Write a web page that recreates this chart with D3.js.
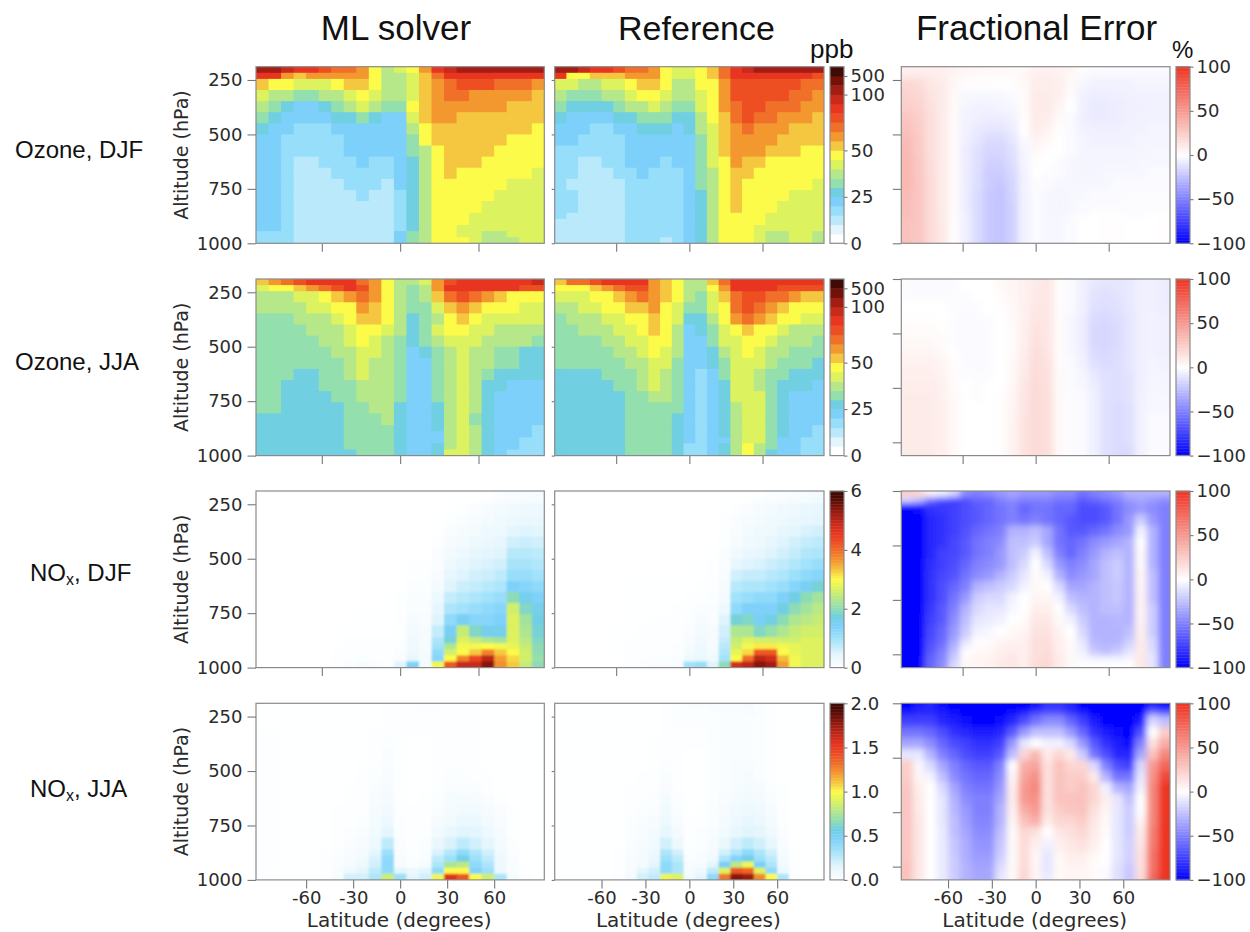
<!DOCTYPE html>
<html>
<head>
<meta charset="utf-8">
<script src="https://cdn.jsdelivr.net/npm/d3@7"></script>
<style>
    html, body { margin: 0; padding: 0; background: #fff; }
    svg { display: block; }
    .tick text { font-family: "DejaVu Sans", sans-serif; font-size: 18px; fill: #2b2b2b; }
    .tick line { stroke: #777; stroke-width: 1.1px; }
    .domain { display: none; }
    .frame { fill: none; stroke: #8a8a8a; stroke-width: 1.2px; }
    .heading { font-family: "Liberation Sans", sans-serif; fill: #111; }
    .axis-label { font-family: "DejaVu Sans", sans-serif; fill: #2b2b2b; }
</style>
</head>
<body>
<div id="chart"></div>
<script>
//Etiquetas
const columnTitles = ['ML solver', 'Reference', 'Fractional Error'];
const rowLabels = [['Ozone, DJF', 15, 158], ['Ozone, JJA', 15, 370], ['NO', 30, 581, 'x', ', DJF'], ['NO', 30, 797, 'x', ', JJA']];

//Rejilla de los datos
const latitudes = [-88,-80,-72,-64,-56,-48,-40,-32,-24,-16,-8,0,8,16,24,32,40,48,56,64,72,80,88];
const altitudeEdges = [189,217,245,296,347,398,449,500,551,602,653,704,755,806,860,888,916,944,972,1000];

//Ticks
const altitudeTicks = [250,500,750,1000];
const shiftedAltitudeTicks = [189,439,689,939];
const latitudeTicksPlain = [-50,0,50];
const latitudeTicksLabelled = [-60,-30,0,30,60];
const ozoneTicks = [0,25,50,100,500];
const noxDjfTicks = [0,2,4,6];
const noxJjaTicks = [0,0.5,1,1.5,2];
const errorTicks = [-100,-50,0,50,100];

//Niveles y colores
const ozoneLevels = [0,5,10,15,20,25,30,35,40,45,50,55,60,65,70,80,100,200,500,1000];
const palette = ['#ffffff','#e3f5fd','#b9e9fb','#97defa','#7dd0fa','#70cfe0','#93dfae','#b6e88a','#dcf25f','#fdfb4a','#f5c63f','#f3982f','#f0702a','#ed4f23','#e83620','#c92a1a','#a31e12','#74120a','#420a04'];

//Ozono DJF (ppb)
const ozoneDjfML = [
[150,150,90,75,75,67,62,62,57,47,37,42,47,57,70,90,150,150,150,150,150,150,150],
[75,70,57,52,57,57,57,57,57,47,37,37,42,52,62,70,75,75,75,75,75,75,75],
[52,47,47,42,42,42,47,52,52,47,37,37,42,52,57,62,67,67,67,62,62,62,57],
[42,37,37,32,32,37,37,42,47,42,37,37,42,52,57,62,62,57,57,57,57,57,52],
[37,32,27,22,22,27,32,37,42,37,32,32,47,52,57,57,57,57,57,57,52,52,52],
[32,27,22,22,22,22,27,27,32,27,22,22,42,52,57,57,52,52,52,52,52,52,52],
[27,22,22,17,17,17,22,22,22,22,22,22,37,47,52,52,52,52,52,52,52,52,47],
[22,22,17,17,17,17,17,22,22,22,22,22,32,47,52,52,52,52,52,52,47,47,47],
[22,22,17,17,17,17,17,22,22,22,22,22,32,37,47,52,52,52,52,47,47,47,47],
[22,22,17,12,12,17,17,17,22,17,17,22,27,37,47,52,52,52,47,47,47,47,47],
[22,22,17,12,12,12,17,17,17,17,17,22,27,37,47,52,47,47,47,47,47,47,42],
[22,22,17,12,12,12,12,17,17,17,12,22,27,37,47,47,47,47,47,47,42,42,42],
[22,22,17,12,12,12,12,12,17,12,12,17,27,37,47,47,47,47,47,42,42,42,42],
[22,22,17,12,12,12,12,12,12,12,12,17,27,37,47,47,47,47,42,42,42,42,42],
[22,22,17,12,12,12,12,12,12,12,12,17,27,37,47,47,47,42,42,42,42,42,42],
[22,22,17,12,12,12,12,12,12,12,12,17,27,37,47,47,47,42,42,42,42,42,42],
[22,22,17,12,12,12,12,12,12,12,12,17,27,37,47,47,42,42,42,42,42,42,42],
[17,17,17,12,12,12,12,12,12,12,12,22,32,37,47,47,42,42,37,37,42,42,42],
[17,17,17,12,12,12,12,12,12,12,12,22,32,37,47,47,47,42,37,37,37,42,42]
];
const ozoneDjfRef = [
[150,150,90,75,75,67,62,62,57,47,42,42,47,52,62,75,90,150,150,150,150,150,150],
[70,47,47,52,52,52,57,57,57,47,42,42,47,52,62,75,75,75,75,75,75,75,67],
[42,42,37,37,42,42,47,52,52,47,37,37,47,47,57,67,67,67,67,67,67,62,62],
[37,32,32,32,37,37,42,47,47,42,37,37,42,47,57,67,67,67,67,67,62,62,57],
[32,27,27,27,27,32,37,37,42,37,32,32,42,47,57,62,67,67,62,62,62,57,57],
[27,22,22,22,22,27,27,32,32,32,27,27,37,47,52,62,67,62,62,57,57,57,52],
[22,22,22,17,17,22,22,27,27,27,22,27,37,42,52,57,62,57,57,57,52,52,52],
[22,22,17,17,17,17,22,22,22,22,22,22,32,42,52,57,57,57,57,52,52,52,52],
[17,17,17,17,17,17,22,22,22,22,22,22,32,42,52,57,57,57,52,52,52,47,47],
[17,17,12,12,17,17,22,22,22,17,22,22,32,42,47,57,52,52,47,47,47,47,47],
[17,17,12,12,12,17,17,22,17,17,17,22,32,37,47,52,52,47,47,47,47,47,47],
[17,12,12,12,12,12,17,17,17,17,17,22,32,37,47,52,47,47,47,47,47,47,42],
[17,17,12,12,12,12,17,17,17,17,17,22,27,37,47,52,47,47,47,47,42,42,42],
[17,17,12,12,12,12,17,17,17,17,17,22,27,37,47,52,47,47,47,42,42,42,42],
[17,12,12,12,12,12,17,17,17,17,17,22,27,37,47,47,47,47,42,42,42,42,42],
[12,12,12,12,12,12,17,17,17,17,17,22,27,37,47,47,47,47,42,42,42,42,42],
[12,12,12,12,12,12,17,17,17,17,17,22,27,37,47,47,47,42,42,42,42,42,42],
[12,12,12,12,12,12,17,17,17,17,17,22,27,37,47,47,47,42,37,37,42,42,37],
[12,12,12,12,12,12,17,17,17,12,17,22,27,37,47,47,47,42,37,37,42,42,37]
];
const ozoneDjfError = [
[8,8,8,8,6,5,4,3,3,3,3,6,7,6,5,1,-1,-2,-2,-2,-2,-2,-2],
[10,10,10,7,5,3,2,2,2,2,5,8,8,7,3,-2,-3,-3,-3,-3,-3,-3,-3],
[20,18,12,10,4,1,1,1,0,1,3,9,9,8,3,-3,-5,-5,-5,-5,-4,-4,-4],
[22,20,14,10,3,-3,-3,-3,-3,-2,2,10,10,8,2,-5,-7,-7,-6,-6,-5,-5,-5],
[24,22,15,10,3,-4,-5,-5,-4,-3,2,10,10,5,0,-6,-8,-8,-7,-6,-6,-5,-5],
[28,24,16,10,2,-5,-6,-7,-7,-5,1,10,9,3,-2,-6,-8,-8,-7,-6,-5,-5,-5],
[30,25,16,10,2,-5,-8,-10,-10,-7,0,9,6,1,-2,-5,-6,-6,-6,-5,-5,-4,-4],
[33,26,16,10,2,-6,-10,-14,-14,-10,-2,6,3,0,-2,-4,-5,-5,-5,-5,-4,-4,-4],
[34,26,16,10,2,-7,-12,-16,-16,-12,-4,3,1,0,-2,-4,-4,-4,-4,-4,-4,-3,-3],
[35,27,17,10,2,-7,-12,-18,-18,-13,-4,1,0,-1,-3,-4,-4,-4,-4,-4,-3,-3,-3],
[35,27,17,10,2,-7,-13,-20,-20,-15,-5,0,-1,-2,-3,-4,-4,-3,-3,-3,-3,-2,-2],
[35,28,18,10,2,-7,-13,-20,-22,-16,-5,-1,-2,-3,-3,-3,-3,-3,-2,-2,-2,-2,-2],
[33,28,18,10,2,-7,-14,-21,-23,-17,-5,-2,-3,-4,-3,-3,-2,-2,-2,-1,-1,-1,-1],
[32,28,18,10,2,-7,-14,-21,-23,-18,-5,-2,-3,-4,-3,-2,-1,-1,-1,-1,-1,-1,-1],
[32,28,18,10,2,-6,-14,-21,-23,-18,-5,-2,-3,-4,-2,-1,0,0,0,-1,-1,0,0],
[30,28,18,11,1,-6,-14,-21,-23,-18,-5,-2,-3,-3,-2,0,0,1,1,0,0,0,1],
[30,28,18,11,1,-6,-14,-21,-23,-18,-5,-2,-3,-3,-2,0,0,1,1,0,0,0,1],
[30,28,18,11,1,-6,-14,-21,-23,-18,-5,-2,-3,-3,-2,0,0,1,1,0,0,0,1],
[30,28,18,11,1,-6,-14,-21,-23,-18,-5,-2,-3,-3,-2,0,0,1,1,0,0,0,1]
];

//Ozono JJA (ppb)
const ozoneJjaML = [
[52,57,62,67,70,70,75,75,62,57,47,37,37,42,57,67,75,75,75,75,75,75,80],
[42,47,47,52,57,62,67,70,67,57,47,37,32,37,57,70,70,70,70,70,70,67,67],
[37,37,37,42,42,47,52,57,62,57,47,37,32,37,52,62,67,62,57,52,47,47,47],
[37,37,37,37,42,42,47,47,57,52,47,37,32,32,42,52,57,52,47,47,47,42,42],
[32,32,32,37,37,37,42,47,52,52,47,37,27,32,37,47,52,47,42,42,42,42,42],
[32,32,32,32,37,37,37,42,47,47,42,37,27,32,42,47,47,42,42,37,37,37,37],
[32,32,32,32,32,37,37,42,47,42,37,32,27,32,37,42,42,42,37,37,37,37,32],
[32,32,32,32,32,32,37,37,42,42,37,32,22,27,32,37,42,37,37,32,32,27,27],
[32,32,32,32,32,32,32,37,42,37,37,32,22,22,32,37,42,37,37,32,32,27,27],
[32,32,32,27,27,32,32,37,42,37,37,32,22,22,32,37,42,37,32,27,27,27,27],
[32,32,27,27,27,32,32,32,37,37,37,32,22,22,32,37,42,37,27,27,22,22,22],
[32,32,27,27,27,27,32,32,37,37,37,32,22,22,32,37,42,37,27,22,22,22,22],
[32,32,27,27,27,27,27,32,32,37,37,27,22,22,27,37,42,37,27,22,22,22,22],
[27,27,27,27,27,27,27,32,32,32,37,27,22,22,27,37,42,32,27,22,22,22,22],
[27,27,27,27,27,27,27,32,32,32,32,27,22,22,27,37,42,37,27,22,22,22,17],
[27,27,27,27,27,27,27,32,32,32,32,27,22,22,22,37,42,37,27,22,22,22,17],
[27,27,27,27,27,27,27,32,32,32,32,27,22,22,22,37,42,37,27,22,22,17,17],
[27,27,27,27,27,27,27,32,32,32,32,27,22,22,27,37,42,37,27,22,22,17,17],
[27,27,27,27,27,27,27,27,32,32,32,27,22,22,27,42,42,37,27,22,17,17,17]
];
const ozoneJjaRef = [
[52,62,62,67,70,70,70,70,57,52,47,37,37,52,62,75,75,75,75,75,75,75,75],
[47,47,47,52,57,62,67,67,57,52,47,37,37,47,57,70,75,75,70,67,67,67,67],
[42,42,42,47,47,52,57,62,57,52,47,37,32,42,52,62,67,67,62,62,57,52,52],
[37,37,42,42,47,47,52,52,57,47,42,32,32,42,47,62,67,62,57,52,47,47,47],
[32,37,37,37,42,42,47,47,52,47,42,27,27,37,47,57,62,57,52,47,47,42,42],
[32,32,37,37,37,42,42,47,52,47,37,22,27,32,42,47,52,47,47,42,37,37,37],
[32,32,32,32,37,37,42,42,47,47,37,22,22,32,42,42,47,47,42,37,37,37,32],
[32,32,32,32,32,37,37,42,47,42,37,22,22,27,37,42,47,42,37,37,32,32,32],
[32,32,32,32,32,32,37,37,42,42,32,22,22,27,32,42,42,42,37,32,32,32,27],
[27,27,27,27,32,32,32,37,42,37,32,22,17,22,32,42,42,37,32,32,27,27,27],
[27,27,27,27,27,32,32,37,42,37,32,22,17,22,27,42,42,37,32,27,27,27,22],
[27,27,27,27,27,27,32,32,37,37,32,22,17,22,27,42,42,42,32,27,22,22,22],
[27,27,27,27,27,27,32,32,32,32,32,22,17,22,27,37,42,42,32,27,22,22,22],
[27,27,27,27,27,27,32,32,32,32,27,22,17,22,27,37,42,42,32,27,22,22,22],
[27,27,27,27,27,27,32,32,32,32,27,22,17,22,27,37,42,42,32,27,22,22,17],
[27,27,27,27,27,27,32,32,32,32,27,22,17,22,27,37,42,42,32,27,22,22,17],
[27,27,27,27,27,27,32,32,32,32,27,22,17,22,22,37,42,42,32,22,22,17,17],
[27,27,27,27,27,27,32,32,32,32,27,17,17,22,27,37,47,37,32,22,22,17,17],
[27,27,27,27,27,27,32,32,32,32,27,17,17,22,27,37,47,37,27,22,22,17,17]
];
const ozoneJjaError = [
[-1,-2,-2,-2,-1,0,0,0,3,5,7,10,12,2,-2,-6,-9,-10,-10,-9,-6,-6,-7],
[-1,-2,-2,-2,-1,0,0,0,3,5,7,10,12,2,-2,-6,-10,-11,-10,-9,-6,-6,-7],
[-1,-1,-1,-1,-1,-1,0,0,2,4,7,11,12,2,-2,-6,-11,-12,-11,-9,-6,-6,-7],
[0,0,0,0,-1,-1,-1,0,1,3,7,12,12,2,-2,-6,-12,-13,-12,-9,-6,-6,-7],
[1,1,1,0,-1,-2,-1,-1,0,3,7,13,12,2,-3,-7,-14,-15,-13,-10,-6,-5,-6],
[2,2,2,1,-1,-2,-2,-1,0,2,8,14,12,2,-3,-7,-15,-16,-14,-10,-6,-5,-6],
[3,3,3,2,-1,-2,-2,-1,0,2,8,15,12,2,-3,-7,-15,-16,-14,-10,-6,-5,-6],
[5,5,5,3,0,-2,-2,-1,0,2,9,16,13,2,-3,-6,-14,-15,-13,-10,-6,-5,-6],
[7,7,7,5,1,-1,-2,-1,0,3,10,17,14,2,-2,-5,-12,-14,-13,-10,-6,-4,-5],
[8,8,8,6,2,-1,-1,-1,0,3,11,17,15,3,-2,-4,-9,-12,-13,-11,-6,-4,-4],
[9,9,9,7,2,0,-1,0,0,4,12,18,15,3,-2,-3,-7,-12,-13,-11,-6,-3,-4],
[10,10,10,7,3,0,-1,0,1,4,13,18,16,3,-1,-2,-6,-12,-13,-11,-5,-3,-3],
[10,10,10,8,3,0,0,0,1,5,13,18,16,3,-1,-2,-6,-12,-14,-12,-5,-3,-3],
[10,10,10,8,3,0,0,0,1,5,14,18,16,3,-1,-2,-6,-12,-14,-12,-5,-2,-2],
[10,10,10,8,3,0,0,0,1,6,14,18,16,3,-1,-2,-6,-12,-14,-12,-5,-2,-2],
[10,10,10,8,3,0,0,0,1,6,14,18,16,3,-1,-2,-6,-12,-14,-12,-5,-2,-2],
[10,10,10,8,3,0,0,0,1,6,14,18,16,3,-1,-2,-6,-12,-14,-12,-5,-2,-2],
[10,10,10,8,3,0,0,0,1,6,14,18,16,3,-1,-2,-6,-12,-14,-14,-5,-2,-2],
[10,10,10,8,3,0,0,0,1,6,14,18,16,3,-1,-2,-6,-12,-14,-14,-5,-2,-2]
];

//NOx DJF (ppb)
const noxDjfML = [
[0,0,0,0,0,0,0,0,0,0,0,0,0,0,0,0,0,.02,.05,.1,.12,.15,.15],
[0,0,0,0,0,0,0,0,0,0,0,0,0,0,0,0,0,.02,.05,.1,.12,.15,.15],
[0,0,0,0,0,0,0,0,0,0,0,0,0,0,0,.02,.05,.1,.15,.2,.25,.3,.3],
[0,0,0,0,0,0,0,0,0,0,0,0,0,0,.02,.05,.1,.15,.2,.25,.3,.35,.35],
[0,0,0,0,0,0,0,0,0,0,0,0,0,0,.02,.1,.15,.2,.3,.3,.45,.5,.45],
[0,0,0,0,0,0,0,0,0,0,0,0,0,0,.05,.15,.2,.3,.35,.4,.6,.65,.6],
[0,0,0,0,0,0,0,0,0,0,0,0,0,0,.08,.2,.3,.4,.45,.5,.8,.8,.75],
[0,0,0,0,0,0,0,0,0,0,0,.01,.03,.03,.1,.3,.4,.5,.55,.6,.95,.95,.85],
[0,0,0,0,0,0,0,0,0,0,0,.02,.05,.05,.15,.4,.5,.6,.65,.75,1.1,1.1,1],
[0,0,0,0,0,0,0,0,0,0,0,.02,.06,.06,.2,.5,.65,.7,.8,.9,1.4,1.3,1.2],
[0,0,0,0,0,0,0,0,0,0,.01,.03,.08,.08,.3,.7,.8,.9,1,1.1,2,1.6,1.4],
[0,0,0,0,0,0,0,0,.01,.01,.01,.03,.1,.1,.4,.9,1,1.1,1.2,1.3,2.6,1.9,1.6],
[0,0,0,0,0,0,0,.01,.01,.01,.02,.04,.15,.12,.5,1.2,1.5,1.3,1.3,1.4,2.7,2.2,1.7],
[0,0,0,0,0,0,.01,.02,.02,.02,.02,.05,.2,.15,.7,1.5,2.5,1.9,1.6,1.6,2.7,2.3,1.8],
[0,0,0,0,0,0,.02,.03,.03,.03,.03,.05,.25,.15,.9,1.8,2.7,2.5,2.3,2.2,2.7,2.4,1.9],
[0,0,0,0,0,0,.02,.03,.04,.03,.03,.06,.25,.15,1,2.3,2.9,2.9,3,2.9,2.8,2.5,2],
[0,0,0,0,0,0,.03,.04,.05,.04,.03,.08,.3,.15,1.2,2.6,3,3.3,3.8,3.3,3,2.6,2],
[0,0,0,0,0,0,.03,.05,.06,.05,.03,.1,.4,.2,1.3,3,3.8,4.4,5,3.6,3.2,2.6,2.1],
[0,0,0,0,0,0,.05,.08,.15,.08,.05,.5,1.4,.2,2.9,4.2,4.9,4.9,5.4,3.7,3.3,2.5,2]
];
const noxDjfRef = [
[0,0,0,0,0,0,0,0,0,0,0,0,0,0,0,0,.02,.05,.08,.1,.12,.15,.2],
[0,0,0,0,0,0,0,0,0,0,0,0,0,0,0,.01,.03,.06,.1,.12,.15,.2,.25],
[0,0,0,0,0,0,0,0,0,0,0,0,0,0,.02,.05,.1,.15,.2,.25,.3,.35,.4],
[0,0,0,0,0,0,0,0,0,0,0,0,0,0,.03,.08,.15,.2,.25,.3,.35,.4,.45],
[0,0,0,0,0,0,0,0,0,0,0,0,0,0,.05,.1,.2,.25,.3,.4,.45,.55,.6],
[0,0,0,0,0,0,0,0,0,0,0,0,0,.01,.05,.15,.25,.3,.4,.5,.6,.7,.75],
[0,0,0,0,0,0,0,0,0,0,0,0,0,.02,.08,.25,.35,.4,.5,.6,.7,.85,.9],
[0,0,0,0,0,0,0,0,0,0,0,.01,.01,.03,.1,.4,.5,.55,.65,.75,.85,1,1.1],
[0,0,0,0,0,0,0,0,0,0,.01,.01,.02,.03,.12,.6,.7,.7,.8,.9,1.05,1.2,1.3],
[0,0,0,0,0,0,.01,.01,.01,.01,.01,.02,.03,.05,.15,.8,.9,.9,1,1.1,1.3,1.5,1.8],
[0,0,0,0,0,0,.01,.01,.01,.01,.02,.03,.05,.06,.2,1,1.1,1.2,1.2,1.4,1.7,2,2.2],
[0,0,0,0,0,0,.01,.02,.02,.02,.03,.05,.08,.08,.3,1.2,1.4,1.4,1.4,1.7,2,2.2,2.4],
[0,0,0,0,0,0,.02,.02,.03,.03,.04,.06,.15,.1,.5,1.8,1.9,1.5,1.7,2,2.3,2.4,2.5],
[0,0,0,0,0,.01,.02,.03,.03,.04,.05,.1,.2,.15,.6,2.3,2.3,1.9,2.1,2.3,2.5,2.6,2.6],
[0,0,0,0,0,.01,.03,.03,.04,.04,.05,.12,.25,.15,.7,2.5,2.7,2.6,2.6,2.6,2.6,2.7,2.7],
[0,0,0,0,0,.01,.03,.04,.04,.05,.06,.15,.3,.15,.8,2.6,2.9,3.1,3.1,2.9,2.8,2.7,2.7],
[0,0,0,0,0,.01,.03,.04,.05,.05,.06,.2,.3,.2,.9,2.8,3.2,4.2,4.2,3,2.8,2.7,2.7],
[0,0,0,0,0,.02,.04,.05,.06,.06,.08,.3,.35,.25,1,3,4,5,4.8,3.4,2.9,2.7,2.7],
[0,0,0,0,0,.02,.05,.06,.08,.08,.1,1,1.1,.5,2,4.8,5,5.4,5.2,3.6,2.9,2.7,2.7]
];
const noxDjfError = [
[25,20,5,-5,-15,-45,-50,-45,-40,-35,-40,-40,-40,-45,-45,-55,-50,-45,-40,-30,-30,-30,-30],
[-15,-25,-55,-70,-75,-70,-60,-60,-50,-45,-50,-50,-50,-55,-55,-65,-60,-55,-50,-40,-35,-40,-45],
[-100,-95,-80,-78,-75,-70,-65,-60,-55,-50,-60,-55,-55,-60,-60,-70,-70,-65,-55,-45,-40,-45,-50],
[-100,-100,-85,-80,-75,-70,-65,-60,-55,-50,-55,-50,-55,-60,-65,-70,-70,-65,-55,-40,-20,-40,-50],
[-100,-100,-85,-80,-75,-68,-60,-55,-50,-30,-30,-25,-35,-55,-65,-65,-60,-55,-45,-40,-5,-30,-50],
[-100,-100,-85,-80,-72,-65,-55,-50,-45,-25,-25,-20,-35,-55,-60,-55,-45,-40,-35,-30,0,-30,-50],
[-100,-100,-85,-75,-72,-65,-55,-50,-40,-25,-20,-5,-25,-50,-60,-50,-40,-30,-25,-30,3,-30,-50],
[-100,-100,-82,-75,-70,-60,-50,-45,-40,-25,-15,0,-15,-40,-50,-45,-35,-25,-20,-30,3,-30,-50],
[-100,-100,-80,-72,-68,-55,-45,-40,-30,-20,-10,2,-5,-30,-45,-40,-35,-25,-20,-30,5,-25,-50],
[-100,-100,-80,-70,-60,-50,-30,-25,-20,-15,-5,3,0,-15,-35,-35,-30,-25,-22,-30,5,-25,-50],
[-100,-100,-80,-70,-55,-40,-20,-15,-15,-5,0,5,5,-5,-25,-30,-30,-25,-22,-30,6,-25,-50],
[-100,-100,-78,-65,-50,-30,-15,-10,-10,-3,0,8,8,0,-15,-25,-30,-25,-25,-30,6,-20,-50],
[-100,-100,-75,-65,-45,-25,-10,-8,-5,0,2,12,12,3,-5,-20,-30,-30,-28,-30,6,-20,-50],
[-100,-100,-72,-60,-40,-20,-5,-3,0,3,5,14,14,6,0,-15,-30,-30,-30,-25,8,-20,-50],
[-100,-100,-70,-58,-35,-12,0,2,5,6,8,16,16,8,2,-10,-28,-30,-30,-20,10,-15,-50],
[-100,-100,-68,-55,-30,-5,2,3,7,8,8,16,16,8,2,-8,-25,-28,-25,-15,10,-15,-50],
[-100,-100,-65,-50,-25,0,3,4,8,10,8,16,18,8,3,-5,-20,-25,-20,-10,10,-12,-50],
[-100,-100,-60,-48,-20,3,5,6,10,12,8,16,18,10,3,-3,-5,-5,-5,-3,12,-10,-50],
[-100,-100,-60,-45,-15,3,5,6,10,12,8,18,20,10,3,0,0,0,0,0,12,-10,-50]
];

//NOx JJA (ppb)
const noxJjaML = [
[.005,.005,.005,.005,.005,.005,.005,.005,.005,.005,.01,.01,.015,.02,.02,.015,.015,.01,.005,.005,.005,.005,.005],
[.005,.005,.005,.005,.005,.005,.005,.005,.005,.005,.01,.01,.015,.015,.015,.015,.015,.01,.005,.005,.005,.005,.005],
[.005,.005,.005,.005,.005,.005,.005,.005,.005,.005,.01,.01,.01,.01,.015,.015,.01,.01,.005,.005,.005,.005,.005],
[.01,.01,.005,.005,.005,.005,.005,.005,.005,.01,.01,.01,.01,.01,.01,.01,.01,.01,.005,.005,.005,.005,.005],
[.01,.01,.005,.005,.005,.005,.005,.005,.005,.01,.02,.01,.005,.005,.01,.01,.01,.01,.005,.005,.005,.005,.005],
[.01,.01,.005,.005,.005,.005,.005,.005,.005,.01,.03,.01,.005,.005,.01,.01,.01,.01,.005,.005,.005,.005,.005],
[.01,.01,.005,.005,.005,.005,.005,.005,.01,.015,.03,.01,.005,.005,.01,.015,.015,.01,.005,.005,.005,.005,.005],
[.01,.01,.005,.005,.005,.005,.005,.005,.01,.02,.04,.01,.005,.005,.01,.02,.02,.015,.01,.005,.005,.005,.005],
[.01,.01,.005,.005,.005,.005,.005,.01,.01,.03,.05,.01,.005,.005,.01,.03,.03,.03,.01,.005,.005,.005,.005],
[.01,.01,.005,.005,.005,.005,.005,.01,.01,.04,.06,.01,.005,.01,.02,.05,.06,.05,.03,.01,.005,.005,.005],
[.01,.01,.005,.005,.005,.005,.01,.01,.015,.05,.08,.015,.01,.01,.03,.06,.08,.08,.05,.03,.01,.005,.005],
[.01,.01,.005,.005,.005,.005,.01,.01,.02,.06,.1,.02,.01,.01,.05,.08,.11,.11,.07,.04,.01,.005,.005],
[.01,.01,.005,.005,.005,.005,.01,.02,.03,.08,.15,.02,.01,.015,.08,.12,.16,.15,.1,.05,.015,.005,.005],
[.01,.01,.005,.005,.005,.005,.01,.03,.05,.1,.25,.03,.01,.02,.12,.18,.25,.2,.14,.07,.02,.005,.005],
[.01,.01,.005,.005,.005,.01,.02,.04,.06,.15,.35,.03,.015,.03,.18,.28,.4,.3,.2,.08,.02,.005,.005],
[.01,.01,.005,.005,.005,.01,.03,.05,.08,.18,.4,.04,.02,.03,.25,.35,.55,.35,.25,.1,.03,.005,.005],
[.01,.01,.005,.005,.005,.01,.03,.06,.1,.2,.4,.05,.02,.05,.3,.75,.8,.4,.3,.1,.03,.01,.005],
[.01,.01,.005,.005,.005,.01,.04,.1,.15,.25,.4,.15,.1,.15,.4,1,1,.45,.35,.1,.03,.01,.005],
[.01,.01,.005,.005,.005,.01,.05,.2,.2,.3,.85,.35,.15,.2,.95,1.55,1.4,1,.85,.3,.05,.01,.005]
];
const noxJjaRef = [
[.005,.005,.005,.005,.005,.005,.005,.005,.005,.01,.02,.03,.03,.04,.04,.04,.05,.03,.01,.005,.005,.005,.005],
[.005,.005,.005,.005,.005,.005,.005,.005,.005,.01,.02,.02,.02,.03,.03,.03,.04,.03,.01,.005,.005,.005,.005],
[.005,.005,.005,.005,.005,.005,.005,.005,.005,.01,.02,.02,.02,.02,.03,.03,.03,.02,.01,.005,.005,.005,.005],
[.005,.005,.005,.005,.005,.005,.005,.005,.005,.01,.01,.01,.01,.02,.03,.03,.03,.02,.01,.005,.005,.005,.005],
[.005,.005,.005,.005,.005,.005,.005,.005,.01,.01,.01,.01,.01,.02,.03,.03,.03,.02,.01,.005,.005,.005,.005],
[.005,.005,.005,.005,.005,.005,.005,.005,.01,.015,.01,.005,.005,.02,.03,.03,.03,.02,.01,.005,.005,.005,.005],
[.005,.005,.005,.005,.005,.005,.005,.005,.01,.02,.01,.005,.005,.02,.03,.04,.04,.03,.01,.005,.005,.005,.005],
[.005,.005,.005,.005,.005,.005,.005,.01,.015,.03,.01,.005,.005,.02,.03,.04,.05,.03,.01,.005,.005,.005,.005],
[.005,.005,.005,.005,.005,.005,.01,.01,.015,.04,.015,.005,.005,.02,.03,.05,.06,.05,.02,.01,.005,.005,.005],
[.005,.005,.005,.005,.005,.005,.01,.015,.02,.06,.02,.005,.005,.02,.04,.06,.08,.07,.03,.01,.005,.005,.005],
[.005,.005,.005,.005,.005,.005,.015,.02,.03,.08,.03,.005,.01,.03,.05,.08,.1,.09,.05,.015,.005,.005,.005],
[.005,.005,.005,.005,.005,.005,.02,.03,.05,.1,.04,.01,.01,.03,.06,.1,.13,.11,.07,.02,.005,.005,.005],
[.005,.005,.005,.005,.005,.005,.02,.04,.06,.13,.06,.01,.02,.04,.08,.13,.16,.14,.09,.03,.005,.005,.005],
[.005,.005,.005,.005,.005,.005,.03,.05,.08,.2,.1,.01,.02,.05,.12,.2,.25,.2,.13,.04,.005,.005,.005],
[.005,.005,.005,.005,.005,.01,.03,.06,.1,.3,.2,.02,.03,.06,.2,.3,.4,.3,.2,.05,.01,.005,.005],
[.005,.005,.005,.005,.005,.01,.04,.06,.12,.35,.25,.03,.04,.08,.3,.45,.55,.35,.25,.07,.01,.005,.005],
[.005,.005,.005,.005,.005,.01,.04,.07,.15,.4,.3,.04,.05,.15,.5,.8,.95,.5,.3,.08,.01,.005,.005],
[.005,.005,.005,.005,.005,.01,.05,.15,.2,.4,.3,.05,.1,.25,.9,1.4,1.35,.9,.4,.1,.015,.005,.005],
[.005,.005,.005,.005,.005,.01,.06,.2,.25,.95,.9,.08,.15,.4,1.3,1.8,1.75,1.25,1,.3,.02,.005,.005]
];
const noxJjaError = [
[-100,-90,-85,-95,-100,-100,-100,-100,-100,-100,-100,-95,-80,-80,-85,-100,-100,-100,-100,-100,-100,-90,-95],
[-90,-85,-85,-90,-95,-100,-100,-100,-100,-95,-90,-75,-70,-70,-80,-90,-100,-100,-100,-100,-100,-55,-65],
[-75,-75,-75,-85,-90,-95,-98,-100,-95,-85,-70,-55,-45,-45,-60,-75,-90,-100,-100,-100,-90,-15,-25],
[-55,-55,-60,-70,-80,-85,-90,-90,-85,-65,-40,-25,-25,-25,-40,-60,-80,-90,-95,-100,-70,0,25],
[-35,-35,-45,-60,-70,-75,-80,-80,-75,-40,-10,0,-5,-5,-15,-40,-65,-80,-90,-95,-50,15,40],
[-10,-10,-30,-50,-60,-70,-75,-75,-65,-25,20,35,10,20,10,-20,-55,-70,-85,-85,-35,30,60],
[25,-3,-15,-35,-50,-60,-65,-65,-50,0,40,45,15,30,20,20,-15,-50,-70,-75,-15,50,75],
[25,5,-5,-25,-45,-55,-60,-60,-45,5,45,55,15,30,25,25,10,-30,-55,-55,-10,55,90],
[28,8,0,-15,-35,-50,-55,-55,-40,8,50,60,15,30,25,30,20,-5,-30,-35,-5,60,100],
[28,10,0,-10,-30,-45,-50,-50,-35,10,50,55,15,30,30,30,20,8,-10,-25,0,60,100],
[28,10,0,-10,-28,-40,-50,-50,-30,8,40,50,15,25,28,30,15,5,-10,-20,0,60,100],
[28,12,0,-10,-25,-38,-48,-48,-30,5,30,40,10,20,20,25,12,3,-10,-20,5,60,100],
[28,12,0,-8,-25,-35,-45,-45,-25,3,20,15,0,12,15,20,10,2,-10,-20,10,65,100],
[28,12,0,-8,-22,-32,-42,-42,-22,3,18,8,-5,8,12,15,8,0,-10,-18,12,65,100],
[28,12,0,-8,-22,-32,-40,-40,-20,3,18,5,-10,5,10,10,5,0,-10,-18,15,70,100],
[28,12,0,-8,-20,-32,-38,-38,-18,3,18,5,-10,3,8,8,3,0,-10,-18,15,70,100],
[30,12,0,-8,-20,-30,-36,-36,-15,3,18,5,-10,3,6,6,2,0,-12,-20,15,70,100],
[30,12,0,-8,-20,-30,-35,-35,-12,3,20,5,-10,3,5,5,2,-2,-12,-22,15,70,100],
[30,12,0,-8,-20,-30,-35,-35,-10,3,20,5,-8,3,5,5,2,-2,-12,-22,18,75,100]
];

//Colores de cada variable
const ozoneColor = d3.scaleThreshold().domain(ozoneLevels.slice(1, -1)).range(palette);
const errorColor = d3.scaleLinear().domain([-100,0,100]).range(['#0000ff','#ffffff','#ee3524']);
function ramp(max) {
    let stops = palette.slice(1).map(function(d,i) { return (i + 1.5) / palette.length * max; });
    return d3.scaleLinear().domain([0].concat(stops)).range(['#ffffff'].concat(palette.slice(1))).clamp(true);
}
const noxDjfColor = ramp(6);
const noxJjaColor = ramp(2);

//Posición de filas y columnas en la página
const columns = [{left: 256, width: 288.3}, {left: 554.7, width: 269.3}, {left: 901.3, width: 268.7}];
const rowsTop = [66.7, 279, 491, 703.3];
const height = 176.6;

let svg = d3.select('#chart').append('svg').attr('width', 1250).attr('height', 932);
let defs = svg.append('defs');

function addBlur(id, deviation) {
    defs.append('filter').attr('id', id)
        .attr('x', '-10%').attr('y', '-10%').attr('width', '120%').attr('height', '120%')
        .append('feGaussianBlur').attr('stdDeviation', deviation);
}
addBlur('soft', 0.6);
addBlur('nox', 1.3);
addBlur('error', 3);

columns.forEach(function(col, i) {
    defs.append('clipPath').attr('id', 'clip' + i)
        .append('rect').attr('width', col.width).attr('height', height);
});

let altitude = d3.scaleLinear().domain([189,1000]).range([0,height]);

function drawPanel(row, colIndex, values, color, blur) {
    let col = columns[colIndex];
    let g = svg.append('g').attr('transform', 'translate(' + col.left + ',' + rowsTop[row] + ')');
    let lat = d3.scaleBand().domain(latitudes).range([0,col.width]);
    let latAxis = d3.scaleLinear().domain([-92,92]).range([0,col.width]);

    //Celdas: las de los bordes sobresalen para que el desenfoque no aclare el marco
    let cells = g.append('g').attr('clip-path', 'url(#clip' + colIndex + ')')
        .append('g').attr('filter', 'url(#' + blur + ')');
    values.forEach(function(rowValues, r) {
        rowValues.forEach(function(v, c) {
            let x0 = c == 0 ? -12 : lat(latitudes[c]);
            let x1 = c == latitudes.length - 1 ? col.width + 12 : lat(latitudes[c]) + lat.bandwidth();
            let y0 = r == 0 ? -12 : altitude(altitudeEdges[r]);
            let y1 = r == values.length - 1 ? height + 12 : altitude(altitudeEdges[r + 1]);
            cells.append('rect')
                .attr('x', x0).attr('y', y0)
                .attr('width', x1 - x0 + 1).attr('height', y1 - y0 + 1)
                .attr('fill', color(v));
        });
    });

    //Ejes
    let labelled = colIndex == 0;
    let yTicks = (colIndex == 2 && row > 0) ? shiftedAltitudeTicks : altitudeTicks;
    g.append('g')
        .call(d3.axisLeft(altitude).tickValues(yTicks).tickSize(colIndex == 1 ? 3 : 8.5).tickPadding(5)
            .tickFormat(labelled ? function(d) { return d; } : ''));

    let bottom = row == 3;
    g.append('g')
        .attr('transform', 'translate(0,' + height + ')')
        .call(d3.axisBottom(latAxis).tickValues(bottom ? latitudeTicksLabelled : latitudeTicksPlain)
            .tickSize(8.5).tickPadding(3)
            .tickFormat(bottom ? function(d) { return d; } : ''));

    g.append('rect').attr('class', 'frame').attr('width', col.width).attr('height', height);

    if(bottom) {
        g.append('text').attr('class', 'axis-label')
            .attr('x', col.width / 2 - 1).attr('y', height + 47)
            .attr('text-anchor', 'middle')
            .style('font-size', '20px')
            .text('Latitude (degrees)');
    }
    if(labelled) {
        g.append('text').attr('class', 'axis-label')
            .attr('transform', 'translate(-68,' + (height / 2) + ') rotate(-90)')
            .attr('text-anchor', 'middle')
            .style('font-size', '19px')
            .text('Altitude (hPa)');
    }
}

function drawBar(row, left, scale, ticks, format, bands) {
    let g = svg.append('g').attr('transform', 'translate(' + left + ',' + rowsTop[row] + ')');
    bands.forEach(function(b) {
        g.append('rect').attr('x', 0).attr('y', b.y0).attr('width', 14)
            .attr('height', b.y1 - b.y0 + 0.4).attr('fill', b.color);
    });
    g.append('g').attr('transform', 'translate(14,0)')
        .call(d3.axisRight(scale).tickValues(ticks).tickSize(3.5).tickPadding(3).tickFormat(format));
    g.append('rect').attr('class', 'frame').attr('width', 14).attr('height', height);
}

function continuousBands(scale, color) {
    let dom = scale.domain(), n = 120;
    return d3.range(n).map(function(i) {
        let v = dom[0] + (dom[1] - dom[0]) * (i + 0.5) / n;
        return {y0: height * (n - i - 1) / n, y1: height * (n - i) / n, color: color(v)};
    });
}

//Paneles
const panels = [
    [ozoneDjfML, ozoneDjfRef, ozoneDjfError, ozoneColor],
    [ozoneJjaML, ozoneJjaRef, ozoneJjaError, ozoneColor],
    [noxDjfML, noxDjfRef, noxDjfError, noxDjfColor],
    [noxJjaML, noxJjaRef, noxJjaError, noxJjaColor]
];
panels.forEach(function(p, row) {
    let modelBlur = row < 2 ? 'soft' : 'nox';
    drawPanel(row, 0, p[0], p[3], modelBlur);
    drawPanel(row, 1, p[1], p[3], modelBlur);
    drawPanel(row, 2, p[2], errorColor, 'error');
});

//Barras de color
let ozoneBar = d3.scaleLinear().domain(ozoneLevels)
    .range(ozoneLevels.map(function(d,i) { return height - i * height / (ozoneLevels.length - 1); }));
let ozoneBands = palette.map(function(c,i) {
    return {y0: ozoneBar(ozoneLevels[i + 1]), y1: ozoneBar(ozoneLevels[i]), color: c};
});
[0,1].forEach(function(row) { drawBar(row, 830, ozoneBar, ozoneTicks, function(d) { return d; }, ozoneBands); });

let djfBar = d3.scaleLinear().domain([0,6]).range([height,0]);
drawBar(2, 830, djfBar, noxDjfTicks, function(d) { return d; }, continuousBands(djfBar, noxDjfColor));
let jjaBar = d3.scaleLinear().domain([0,2]).range([height,0]);
drawBar(3, 830, jjaBar, noxJjaTicks, d3.format('.1f'), continuousBands(jjaBar, noxJjaColor));

let errorBar = d3.scaleLinear().domain([-100,100]).range([height,0]);
[0,1,2,3].forEach(function(row) {
    drawBar(row, 1176, errorBar, errorTicks, d3.format('d'), continuousBands(errorBar, errorColor));
});

//Títulos
const titleCenters = [396, 696.5, 1036.5];
const titleSizes = [35, 34, 35];
columnTitles.forEach(function(t,i) {
    svg.append('text').attr('class', 'heading')
        .attr('x', titleCenters[i]).attr('y', 40)
        .attr('text-anchor', 'middle').style('font-size', titleSizes[i] + 'px')
        .text(t);
});
svg.append('text').attr('class', 'heading').attr('x', 810).attr('y', 58).style('font-size', '26px').text('ppb');
svg.append('text').attr('class', 'heading').attr('x', 1172).attr('y', 58).style('font-size', '24px').text('%');

rowLabels.forEach(function(r) {
    let t = svg.append('text').attr('class', 'heading').attr('x', r[1]).attr('y', r[2]).style('font-size', '24px');
    t.append('tspan').text(r[0]);
    if(r[3]) {
        t.append('tspan').attr('dy', 4).style('font-size', '16px').text(r[3]);
        t.append('tspan').attr('dy', -4).text(r[4]);
    }
});
</script>
</body>
</html>
